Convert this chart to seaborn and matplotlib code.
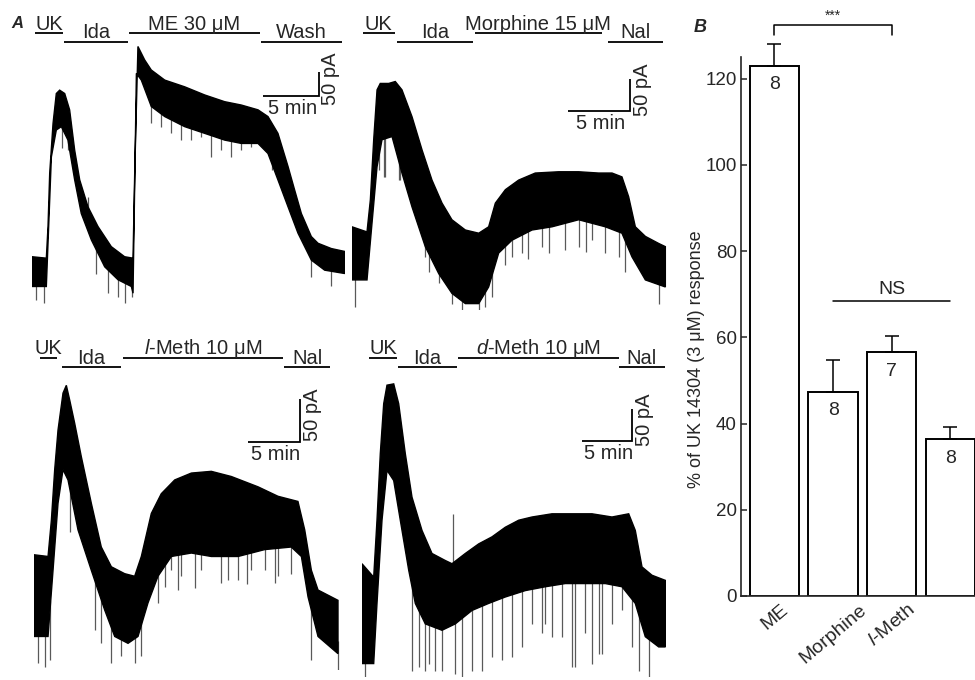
import numpy as np
import pandas as pd
import matplotlib
matplotlib.use("Agg")
import matplotlib.pyplot as plt
import matplotlib.transforms as mtransforms
import seaborn as sns

sns.set_style("ticks")
plt.rcParams["font.family"] = ["Liberation Sans", "DejaVu Sans"]
plt.rcParams["mathtext.fontset"] = "custom"
plt.rcParams["mathtext.rm"] = "Liberation Sans"
plt.rcParams["mathtext.it"] = "Liberation Sans:italic"
plt.rcParams["mathtext.bf"] = "Liberation Sans:bold"

# ---------------------------------------------------------------- traces
# Each current trace is stored as the upper and lower envelope of the noisy
# band (time in min, current in pA above the lowest point of the record),
# plus the deepest transient downward deflections.

# ME 30 uM
me_up_t = [0, 1.28, 1.43, 1.58, 1.88, 2.17, 2.47, 2.92, 3.36, 3.81, 4.26, 5.0, 5.89, 7.08, 8.27, 9.02,
           9.17, 9.46, 10.06, 10.65, 11.85, 13.63, 15.42, 17.20, 18.69, 20.18, 21.07, 21.96, 22.86,
           23.45, 24.05, 24.94, 25.54, 26.73, 27.92]
me_up_i = [111, 108, 174, 285, 389, 451, 458, 451, 417, 333, 271, 215, 174, 132, 111, 108,
           285, 549, 521, 500, 479, 465, 448, 434, 427, 417, 403, 368, 299,
           250, 201, 153, 139, 128, 122]
me_lo_t = [0, 1.28, 1.73, 2.17, 2.62, 3.21, 3.81, 4.40, 5.30, 6.49, 7.68, 8.87, 9.02, 9.32, 9.76,
           10.65, 11.85, 13.63, 15.42, 17.20, 18.69, 20.18, 21.07, 21.96, 22.86, 23.75, 24.94,
           26.13, 27.92]
me_lo_i = [49, 49, 319, 375, 382, 354, 271, 201, 146, 90, 63, 49, 35, 493, 479,
           424, 403, 382, 368, 354, 347, 347, 326, 271, 215, 160, 104,
           83, 76]
me_spk_t = [0.4, 1.1, 2.68, 3.21, 5.0, 5.74, 6.8, 7.68, 8.3, 8.9, 10.65, 11.55, 12.44, 13.33,
            14.23, 15.12, 16.0, 16.9, 17.8, 18.69, 19.58, 20.18, 21.4, 24.9, 26.7]
me_spk_i = [20, 14, 337, 333, 236, 76, 35, 28, 14, 28, 389, 382, 368, 354,
            354, 361, 319, 333, 319, 333, 340, 347, 292, 69, 49]

# Morphine 15 uM
mo_up_t = [0, 1.21, 1.48, 1.75, 2.02, 2.28, 2.96, 3.49, 4.03, 4.84, 5.65, 6.45, 7.26, 8.06, 9.14,
           10.22, 11.02, 11.56, 12.37, 13.44, 14.78, 16.67, 18.28, 19.89, 20.97, 21.77, 22.31,
           22.85, 23.66, 24.73, 25.27]
mo_up_i = [130, 122, 172, 266, 344, 354, 354, 357, 344, 302, 250, 203, 167, 141, 125,
           120, 130, 167, 188, 203, 214, 216, 216, 214, 214, 208, 177,
           130, 115, 104, 99]
mo_lo_t = [0, 1.21, 1.61, 2.02, 2.42, 3.23, 4.03, 4.84, 5.91, 6.99, 8.06, 9.14, 10.22, 11.02,
           11.83, 12.90, 14.52, 16.13, 18.28, 20.43, 21.77, 22.58, 23.66, 25.27]
mo_lo_i = [47, 47, 135, 224, 266, 271, 214, 161, 99, 57, 26, 10, 10, 36,
           89, 109, 125, 130, 141, 130, 120, 83, 47, 36]
mo_spk_t = [0.27, 2.15, 2.55, 2.69, 3.76, 3.90, 5.91, 6.18, 6.99, 8.06, 8.87, 10.22, 10.75,
            11.29, 12.10, 12.37, 12.90, 13.71, 14.2, 15.32, 15.86, 17.2, 18.28, 18.9, 19.35,
            20.43, 21.5, 22.04, 24.73]
mo_spk_i = [5, 219, 208, 208, 203, 203, 83, 60, 42, 10, 0, 0, 5,
            21, 99, 70, 83, 89, 80, 99, 89, 94, 99, 90, 109,
            89, 83, 60, 10]

# l-Methadone 10 uM
lm_up_t = [0, 1.35, 1.67, 1.99, 2.31, 2.79, 3.11, 3.43, 3.91, 4.55, 5.51, 6.47, 7.44, 8.72, 9.68,
           10.32, 11.28, 12.24, 13.53, 15.13, 17.05, 18.97, 21.54, 23.46, 25.38, 26.03, 26.67,
           27.31, 28.59, 29.23]
lm_up_i = [134, 132, 174, 233, 279, 322, 331, 314, 287, 248, 194, 143, 120, 112, 109,
           132, 182, 205, 221, 229, 231, 225, 213, 202, 196, 163, 116,
           93, 85, 81]
lm_lo_t = [0, 1.35, 1.83, 2.31, 2.79, 3.27, 4.23, 5.51, 6.79, 7.76, 9.04, 10.0, 10.96, 11.92,
           13.21, 15.13, 17.05, 19.62, 22.18, 24.74, 25.71, 26.35, 27.31, 29.23]
lm_lo_i = [39, 39, 116, 194, 233, 221, 163, 116, 70, 39, 31, 39, 78, 109,
           132, 136, 132, 132, 140, 143, 132, 85, 39, 19]
lm_spk_t = [0.38, 1.03, 1.51, 3.5, 5.83, 6.47, 7.44, 8.4, 9.68, 10.32, 11.92, 12.56, 13.21,
            13.85, 14.17, 15.5, 16.09, 18.01, 18.65, 19.62, 20.5, 20.9, 22.18, 23.14, 23.46,
            24.74, 26.67, 29.23]
lm_spk_i = [8, 4, 12, 160, 47, 31, 8, 16, 8, 16, 78, 97, 116,
            93, 109, 95, 116, 101, 105, 105, 100, 116, 116, 101, 109,
            112, 12, 0]

# d-Methadone 10 uM
dm_up_t = [0, 1.17, 1.5, 1.83, 2.17, 2.5, 3.17, 3.67, 4.33, 5.0, 6.0, 7.0, 8.33, 9.0, 10.33,
           11.67, 13.0, 14.33, 15.67, 17.0, 19.0, 21.0, 23.0, 25.0, 26.67, 27.33, 28.0, 29.0, 30.33]
dm_up_i = [177, 156, 245, 349, 427, 456, 458, 427, 349, 281, 229, 193, 182, 177, 193,
           208, 219, 234, 245, 250, 255, 255, 255, 250, 255, 229, 172, 159, 151]
dm_lo_t = [0, 1.17, 1.5, 2.0, 2.5, 3.17, 3.83, 4.67, 5.33, 6.33, 8.0, 9.33, 11.0, 12.67, 14.33,
           16.33, 18.33, 20.33, 22.33, 24.33, 26.0, 27.33, 28.33, 29.67, 30.33]
dm_lo_i = [21, 21, 115, 245, 323, 307, 245, 167, 115, 83, 73, 83, 104, 115, 125,
           135, 141, 146, 146, 146, 141, 115, 63, 47, 47]
dm_spk_t = [0.33, 5.0, 5.67, 6.33, 6.67, 7.33, 8.0, 9.33, 10.0, 11.0, 12.0, 13.0, 14.0, 15.0,
            16.0, 17.0, 18.0, 18.33, 19.0, 20.0, 21.0, 21.33, 22.33, 23.0, 23.67, 24.0, 25.0,
            26.0, 27.0, 27.67, 28.67]
dm_spk_i = [0, 10, 16, 10, 21, 10, 10, 5, 0, 10, 10, 31, 26, 31,
            47, 83, 68, 83, 62, 63, 16, 16, 68, 21, 36, 36, 83,
            104, 47, 10, 0]
dm_up_spk_t = [9.07]
dm_up_spk_i = [255]

# Drug application periods (label, start min, end min, row)
me_apps = [("UK", 0.27, 2.77, 0), ("Ida", 2.86, 8.57, 1),
           ("ME 30 μM", 8.66, 20.36, 0), ("Wash", 20.45, 27.68, 1)]
mo_apps = [("UK", 0.86, 3.47, 0), ("Ida", 3.60, 9.76, 1),
           ("Morphine 15 μM", 9.92, 20.14, 0), ("Nal", 20.65, 25.08, 1)]
lm_apps = [("UK", 0.58, 2.21, 0), ("Ida", 2.69, 8.37, 1),
           (r"$\mathit{l}$-Meth 10 μM", 8.56, 23.94, 0), ("Nal", 24.04, 28.46, 1)]
dm_apps = [("UK", 0.7, 3.5, 0), ("Ida", 3.6, 9.5, 1),
           (r"$\mathit{d}$-Meth 10 μM", 9.6, 25.7, 0), ("Nal", 25.7, 30.3, 1)]

# ---------------------------------------------------------------- panel B
groups = ["ME", "Morphine", "l-Meth", "d-Meth"]
tick_labels = ["ME", "Morphine", r"$\mathit{l}$-Meth", ""]
pct_mean = [123.0, 47.4, 56.5, 36.4]
pct_sem = [5.0, 7.4, 3.8, 2.7]
n_cells = [8, 8, 7, 8]

W, H = 975, 680
fig = plt.figure(figsize=(W / 100, H / 100), dpi=100)


def px_axes(left, top, right, bottom):
    return fig.add_axes([left / W, 1 - bottom / H, (right - left) / W, (bottom - top) / H])


def fig_y(px):
    return 1 - px / H


FS = 14.5


def draw_trace(box, px_min, px_pa, up_t, up_i, lo_t, lo_i, spk_t, spk_i,
               apps, app_rows, scale_origin, up_spk=None):
    left, top, right, bottom = box
    ax = px_axes(left, top, right, bottom)
    ax.set_xlim(0, (right - left) / px_min)
    ax.set_ylim(0, (bottom - top) / px_pa)
    ax.axis("off")

    up_t, up_i = np.asarray(up_t, float), np.asarray(up_i, float)
    lo_t, lo_i = np.asarray(lo_t, float), np.asarray(lo_i, float)
    spk_t, spk_i = np.asarray(spk_t, float), np.asarray(spk_i, float)

    tops = np.interp(spk_t, lo_t, lo_i) + 15
    ax.vlines(spk_t, spk_i, tops, color="0.35", lw=0.9, zorder=1)
    if up_spk is not None:
        st, si = np.asarray(up_spk[0], float), np.asarray(up_spk[1], float)
        ax.vlines(st, np.interp(st, up_t, up_i) - 10, si, color="0.35", lw=0.9, zorder=1)
    ax.fill(np.r_[up_t, lo_t[::-1]], np.r_[up_i, lo_i[::-1]],
            facecolor="black", edgecolor="black", lw=1.0, zorder=2)

    # drug application bars
    trans = mtransforms.blended_transform_factory(ax.transData, fig.transFigure)
    for label, t0, t1, row in apps:
        yline = app_rows[row]
        ax.plot([t0, t1], [fig_y(yline)] * 2, transform=trans, color="black",
                lw=1.3, clip_on=False, solid_capstyle="butt")
        ax.text((t0 + t1) / 2, fig_y(yline - 3.5), label, transform=trans,
                ha="center", va="baseline", fontsize=FS)

    # scale bar: 5 min x 50 pA
    x0, y0 = scale_origin
    ax.plot([x0, x0 + 5, x0 + 5], [y0, y0, y0 + 50], color="black", lw=1.3,
            solid_joinstyle="miter", solid_capstyle="butt", clip_on=False)
    ax.annotate("5 min", (x0 + 2.5, y0), xytext=(1, -2), textcoords="offset points",
                ha="center", va="top", fontsize=FS)
    ax.annotate("50 pA", (x0 + 5, y0 + 25), xytext=(2, 4), textcoords="offset points",
                ha="left", va="center", rotation=90, fontsize=FS)
    return ax


draw_trace((32, 40, 345, 310), 11.2, 0.48, me_up_t, me_up_i, me_lo_t, me_lo_i,
           me_spk_t, me_spk_i, me_apps, (33, 42), (20.6, 446))
draw_trace((352, 40, 670, 310), 12.4, 0.64, mo_up_t, mo_up_i, mo_lo_t, mo_lo_i,
           mo_spk_t, mo_spk_i, mo_apps, (33, 42), (17.4, 311))
draw_trace((34, 370, 345, 670), 10.4, 0.86, lm_up_t, lm_up_i, lm_lo_t, lm_lo_i,
           lm_spk_t, lm_spk_i, lm_apps, (358, 367), (20.6, 265))
draw_trace((362, 370, 670, 677), 10.0, 0.64, dm_up_t, dm_up_i, dm_lo_t, dm_lo_i,
           dm_spk_t, dm_spk_i, dm_apps, (358, 367), (22.0, 368),
           up_spk=(dm_up_spk_t, dm_up_spk_i))

fig.text(17 / W, fig_y(24), "A", fontsize=12, weight="bold", style="italic",
         ha="center", va="center")
fig.text(700 / W, fig_y(27), "B", fontsize=13, weight="bold", style="italic",
         ha="center", va="center")

# ---------------------------------------------------------------- bar chart
df = pd.DataFrame({"agonist": groups, "pct": pct_mean})
axb = px_axes(741, 57, 975, 596)
sns.barplot(data=df, x="agonist", y="pct", order=groups, color="white", saturation=1,
            edgecolor="black", linewidth=1.4, width=0.84, errorbar=None, ax=axb)
eb = axb.errorbar(np.arange(len(groups)), pct_mean,
                  yerr=[np.zeros(len(groups)), pct_sem], fmt="none", ecolor="black",
                  elinewidth=1.1, capsize=4.7, capthick=1.1, zorder=3)
for artist in eb.lines[1] + eb.lines[2]:
    artist.set_clip_on(False)
for i, (m, n) in enumerate(zip(pct_mean, n_cells)):
    axb.text(i, m - 2.5, str(n), ha="center", va="top", fontsize=14)

axb.set_xlim(-0.57, 3.42)
axb.set_ylim(0, 125)
axb.set_yticks(range(0, 121, 20))
axb.set_xticks(range(len(groups)))
axb.set_xticklabels(tick_labels, rotation=40, ha="center", fontsize=14)
axb.tick_params(axis="x", length=0, pad=4)
axb.tick_params(axis="y", direction="in", length=4, width=1.1, labelsize=13.5, pad=3)
axb.set_xlabel("")
axb.set_ylabel("% of UK 14304 (3 μM) response", fontsize=13)
axb.yaxis.set_label_coords(-0.155, 0.44)
sns.despine(ax=axb)
for s in ("left", "bottom"):
    axb.spines[s].set_linewidth(1.2)

# significance annotations
axb.plot([0, 0, 2, 2], [130, 132.5, 132.5, 130], color="black", lw=1.1, clip_on=False)
axb.text(1, 133.0, "***", ha="center", va="bottom", fontsize=10, clip_on=False)
axb.plot([1, 3], [68.4, 68.4], color="black", lw=1.1)
axb.text(2, 69.0, "NS", ha="center", va="bottom", fontsize=14)

fig.savefig("out.png", dpi=100)
